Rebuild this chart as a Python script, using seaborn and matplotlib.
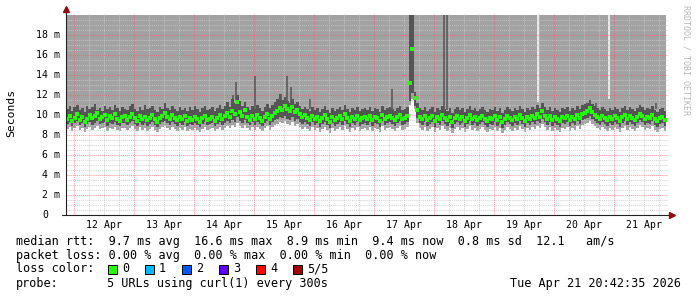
import numpy as np
import pandas as pd
import matplotlib
matplotlib.use("Agg")
import matplotlib.pyplot as plt
import matplotlib.dates as mdates
from matplotlib.patches import Rectangle
from matplotlib.transforms import blended_transform_factory
import seaborn as sns

# ---------------- data (hourly, starting 2026-04-11 20:48) ----------------
start_time = "2026-04-11 20:48"
n_hours = 240

median_ms = [
    9.6, 9.9, 9.4, 9.7, 10.1, 9.5, 9.8, 9.3, 9.6, 10.0, 9.7, 9.9, 10.2, 9.6, 9.8, 10.0, 9.5, 9.9, 9.7, 10.1, 9.6, 9.4, 9.8, 9.9,
    9.5, 9.8, 10.1, 9.7, 9.4, 9.9, 9.6, 9.8, 9.5, 9.7, 10.0, 9.6, 9.3, 9.7, 9.9, 10.2, 9.8, 9.6, 10.0, 9.7, 9.5, 9.8, 9.6, 9.9,
    9.4, 9.7, 9.5, 9.8, 9.6, 9.3, 9.7, 9.9, 9.5, 9.6, 9.8, 9.4, 9.7, 10.0, 9.6, 9.9, 10.2, 9.8, 10.4, 10.1, 11.3, 10.3, 9.9, 10.5,
    9.8, 9.5, 9.9, 9.6, 10.0, 9.7, 9.4, 9.8, 10.1, 9.6, 9.9, 10.2, 10.4, 10.7, 10.5, 10.9, 10.6, 10.4, 10.8, 10.3, 10.5, 10.1, 9.8, 10.0,
    9.7, 9.5, 9.9, 9.6, 9.8, 9.4, 9.7, 10.0, 9.6, 9.3, 9.8, 9.5, 9.7, 9.9, 9.6, 10.1, 9.7, 9.4, 9.8, 9.6, 9.9, 9.5, 9.7, 9.8,
    9.6, 9.9, 9.5, 9.8, 9.7, 9.4, 10.0, 9.6, 9.8, 9.9, 9.7, 9.5, 9.8, 10.0, 9.6, 9.7, 9.9, 13.2, 16.6, 11.7, 10.5, 9.8, 9.6, 9.9,
    9.5, 9.7, 9.9, 9.4, 9.8, 9.6, 10.0, 9.7, 9.5, 9.8, 9.3, 9.7, 9.9, 9.6, 9.8, 9.4, 9.7, 10.0, 9.6, 9.8, 9.5, 9.7, 9.9, 9.6,
    9.4, 9.7, 9.6, 9.9, 9.5, 9.8, 9.3, 9.6, 9.9, 9.7, 9.5, 9.8, 9.6, 10.0, 9.7, 9.4, 9.8, 9.6, 9.9, 9.7, 10.1, 9.8, 10.4, 9.9,
    9.6, 9.9, 9.5, 9.8, 9.6, 9.4, 9.8, 9.7, 9.9, 9.5, 9.8, 9.6, 10.0, 9.7, 10.1, 10.2, 10.4, 10.7, 10.3, 10.0, 9.8, 9.6, 9.9, 9.7,
    9.5, 9.8, 9.6, 9.9, 9.7, 9.4, 9.8, 10.0, 9.6, 9.9, 9.7, 9.5, 9.8, 10.1, 9.9, 9.6, 9.8, 9.7, 10.0, 9.6, 9.4, 9.7, 9.8, 9.5,
]

inner_high_ms = [
    10.6, 10.9, 10.4, 10.8, 11.0, 10.5, 10.7, 10.3, 10.9, 10.6, 10.8, 11.1, 10.5, 10.7, 10.4, 10.9, 10.6, 10.8, 10.5, 11.0, 10.7, 10.4, 10.8, 10.6,
    10.5, 10.9, 11.1, 10.6, 10.4, 10.8, 10.5, 11.0, 10.6, 10.7, 10.9, 10.5, 10.3, 10.8, 10.6, 11.2, 10.7, 10.5, 10.9, 10.6, 10.4, 10.8, 10.5, 10.7,
    10.4, 10.8, 10.5, 10.9, 10.6, 10.3, 10.7, 10.9, 10.5, 10.6, 10.8, 10.4, 10.7, 11.0, 10.6, 10.9, 11.3, 10.8, 11.6, 11.2, 12.0, 11.4, 10.9, 11.3,
    10.8, 10.5, 10.9, 10.6, 11.0, 10.7, 10.4, 10.8, 11.1, 10.7, 11.0, 11.3, 11.6, 12.1, 11.5, 11.8, 11.4, 11.2, 11.6, 11.1, 11.3, 10.9, 10.6, 10.8,
    10.6, 10.4, 10.8, 10.5, 10.7, 10.3, 10.6, 10.9, 10.5, 10.2, 10.7, 10.4, 10.6, 10.8, 10.5, 11.0, 10.6, 10.3, 10.7, 10.5, 10.8, 10.4, 10.6, 10.7,
    10.5, 10.8, 10.4, 10.7, 10.6, 10.3, 10.9, 10.5, 10.7, 10.8, 10.6, 10.4, 10.7, 10.9, 10.5, 10.6, 10.8, 20.0, 20.0, 12.3, 11.2, 10.7, 10.5, 10.8,
    10.4, 10.6, 10.8, 10.3, 10.7, 10.5, 10.9, 10.6, 10.4, 10.7, 10.2, 10.6, 10.8, 10.5, 10.7, 10.3, 10.6, 10.9, 10.5, 10.7, 10.4, 10.6, 10.8, 10.5,
    10.3, 10.6, 10.5, 10.8, 10.4, 10.7, 10.2, 10.5, 10.8, 10.6, 10.4, 10.7, 10.5, 10.9, 10.6, 10.3, 10.7, 10.5, 10.8, 10.6, 11.0, 10.7, 11.2, 10.8,
    10.5, 10.8, 10.4, 10.7, 10.5, 10.3, 10.7, 10.6, 10.8, 10.4, 10.7, 10.5, 10.9, 10.6, 11.0, 11.1, 11.2, 11.5, 11.1, 10.9, 10.7, 10.5, 10.8, 10.6,
    10.4, 10.7, 10.5, 10.8, 10.6, 10.3, 10.7, 10.9, 10.5, 10.8, 10.6, 10.4, 10.7, 11.0, 10.8, 10.5, 10.7, 10.6, 10.9, 10.5, 10.3, 10.6, 10.7, 10.4,
]

inner_low_ms = [
    9.1, 9.3, 8.9, 9.2, 9.4, 9.0, 9.2, 8.8, 9.1, 9.3, 9.0, 9.2, 9.4, 9.1, 9.2, 9.3, 8.9, 9.2, 9.1, 9.3, 9.0, 8.9, 9.2, 9.2,
    9.0, 9.2, 9.4, 9.1, 8.9, 9.3, 9.0, 9.2, 8.9, 9.1, 9.3, 9.0, 8.8, 9.1, 9.3, 9.4, 9.2, 9.0, 9.3, 9.1, 8.9, 9.2, 9.0, 9.3,
    8.9, 9.1, 9.0, 9.2, 9.0, 8.8, 9.1, 9.3, 9.0, 9.1, 9.2, 8.9, 9.1, 9.3, 9.0, 9.2, 9.4, 9.2, 9.5, 9.3, 9.8, 9.4, 9.2, 9.5,
    9.2, 9.0, 9.3, 9.0, 9.3, 9.1, 8.9, 9.2, 9.4, 9.0, 9.3, 9.5, 9.6, 9.8, 9.7, 9.9, 9.6, 9.5, 9.8, 9.4, 9.6, 9.3, 9.1, 9.3,
    9.1, 8.9, 9.3, 9.0, 9.2, 8.8, 9.1, 9.3, 9.0, 8.7, 9.2, 8.9, 9.1, 9.3, 9.0, 9.4, 9.1, 8.8, 9.2, 9.0, 9.3, 8.9, 9.1, 9.2,
    9.0, 9.3, 8.9, 9.2, 9.1, 8.8, 9.4, 9.0, 9.2, 9.3, 9.1, 8.9, 9.2, 9.4, 9.0, 9.1, 9.3, 11.4, 12.2, 10.9, 9.7, 9.2, 9.0, 9.3,
    8.9, 9.1, 9.3, 8.8, 9.2, 9.0, 9.4, 9.1, 8.9, 9.2, 8.7, 9.1, 9.3, 9.0, 9.2, 8.8, 9.1, 9.4, 9.0, 9.2, 8.9, 9.1, 9.3, 9.0,
    8.8, 9.1, 9.0, 9.3, 8.9, 9.2, 8.7, 9.0, 9.3, 9.1, 8.9, 9.2, 9.0, 9.4, 9.1, 8.8, 9.2, 9.0, 9.3, 9.1, 9.4, 9.2, 9.6, 9.3,
    9.0, 9.3, 8.9, 9.2, 9.0, 8.8, 9.2, 9.1, 9.3, 8.9, 9.2, 9.0, 9.4, 9.1, 9.5, 9.6, 9.7, 9.9, 9.6, 9.4, 9.2, 9.0, 9.3, 9.1,
    8.9, 9.2, 9.0, 9.3, 9.1, 8.8, 9.2, 9.4, 9.0, 9.3, 9.1, 8.9, 9.2, 9.5, 9.3, 9.0, 9.2, 9.1, 9.4, 9.0, 8.8, 9.1, 9.2, 8.9,
]

outer_low_ms = [
    8.6, 8.8, 8.4, 8.7, 8.9, 8.5, 8.7, 8.3, 8.6, 8.8, 8.5, 8.7, 8.9, 8.6, 8.7, 8.8, 8.4, 8.7, 8.6, 8.8, 8.5, 8.4, 8.7, 8.7,
    8.5, 8.7, 8.9, 8.6, 8.4, 8.8, 8.5, 8.7, 8.4, 8.6, 8.8, 8.5, 8.3, 8.6, 8.8, 8.9, 8.7, 8.5, 8.8, 8.6, 8.4, 8.7, 8.5, 8.8,
    8.4, 8.6, 8.5, 8.7, 8.5, 8.3, 8.6, 8.8, 8.5, 8.6, 8.7, 8.4, 8.6, 8.8, 8.5, 8.7, 8.9, 8.7, 9.0, 8.8, 9.2, 8.9, 8.7, 9.0,
    8.7, 8.5, 8.8, 8.5, 8.8, 8.6, 8.4, 8.7, 8.9, 8.5, 8.8, 9.0, 9.1, 9.3, 9.2, 9.4, 9.1, 9.0, 9.3, 8.9, 9.1, 8.8, 8.6, 8.8,
    8.6, 8.4, 8.8, 8.5, 8.7, 8.3, 8.6, 8.8, 8.5, 8.2, 8.7, 8.4, 8.6, 8.8, 8.5, 8.9, 8.6, 8.3, 8.7, 8.5, 8.8, 8.4, 8.6, 8.7,
    8.5, 8.8, 8.4, 8.7, 8.6, 8.3, 8.9, 8.5, 8.7, 8.8, 8.6, 8.4, 8.7, 8.9, 8.5, 8.6, 8.8, 11.0, 11.6, 10.6, 9.2, 8.7, 8.5, 8.8,
    8.4, 8.6, 8.8, 8.3, 8.7, 8.5, 8.9, 8.6, 8.4, 8.7, 8.2, 8.6, 8.8, 8.5, 8.7, 8.3, 8.6, 8.9, 8.5, 8.7, 8.4, 8.6, 8.8, 8.5,
    8.3, 8.6, 8.5, 8.8, 8.4, 8.7, 8.2, 8.5, 8.8, 8.6, 8.4, 8.7, 8.5, 8.9, 8.6, 8.3, 8.7, 8.5, 8.8, 8.6, 8.9, 8.7, 9.1, 8.8,
    8.5, 8.8, 8.4, 8.7, 8.5, 8.3, 8.7, 8.6, 8.8, 8.4, 8.7, 8.5, 8.9, 8.6, 9.0, 9.1, 9.2, 9.4, 9.1, 8.9, 8.7, 8.5, 8.8, 8.6,
    8.4, 8.7, 8.5, 8.8, 8.6, 8.3, 8.7, 8.9, 8.5, 8.8, 8.6, 8.4, 8.7, 9.0, 8.8, 8.5, 8.7, 8.6, 8.9, 8.5, 8.3, 8.6, 8.7, 8.4,
]

# single-sample spikes of the inner smoke band
spike_times = ["2026-04-14 15:36", "2026-04-14 16:48", "2026-04-15 00:24", "2026-04-15 10:48",
               "2026-04-15 13:12", "2026-04-15 14:48", "2026-04-15 22:24", "2026-04-17 07:12",
               "2026-04-18 03:48", "2026-04-18 05:00", "2026-04-20 16:48", "2026-04-21 16:48"]
spike_low_ms = [10.6, 10.8, 10.6, 10.8, 10.8, 10.8, 10.6, 10.6, 10.5, 10.5, 10.7, 10.6]
spike_high_ms = [12.0, 13.3, 13.9, 12.1, 13.9, 12.8, 11.6, 12.6, 20.0, 20.0, 11.2, 11.2]

# samples where the highest ping stayed inside the graph
gap_times = ["2026-04-19 17:36", "2026-04-20 22:00"]
gap_max_ms = [11.3, 11.6]

y_major = [2, 4, 6, 8, 10, 12, 14, 16, 18]
y_labels = ["2 m", "4 m", "6 m", "8 m", "10 m", "12 m", "14 m", "16 m", "18 m"]
day_labels = ["12 Apr", "13 Apr", "14 Apr", "15 Apr", "16 Apr", "17 Apr", "18 Apr", "19 Apr", "20 Apr", "21 Apr"]

rtt_stats = {"avg": 9.7, "max": 16.6, "min": 8.9, "now": 9.4, "sd": 0.8, "ams": 12.1}
loss_stats = {"avg": 0.00, "max": 0.00, "min": 0.00, "now": 0.00}
loss_labels = ["0", "1", "2", "3", "4", "5/5"]
loss_colors = ["#26ff00", "#00b8ff", "#0059ff", "#5e00ff", "#ff0000", "#a10000"]
probe_text = "5 URLs using curl(1) every 300s"
stamp_text = "Tue Apr 21 20:42:35 2026"

# ---------------- figure ----------------
sns.set_theme(style="white")
plt.rcParams["font.family"] = ["DejaVu Sans Mono", "DejaVu Sans"]

W, H = 697, 297
fig = plt.figure(figsize=(W / 100, H / 100), dpi=100)
fig.patch.set_facecolor("white")

AX_L, AX_R, AX_B, AX_T = 66, 668, 215, 13
ax = fig.add_axes([AX_L / W, (H - AX_B) / H, (AX_R - AX_L) / W, (AX_B - AX_T) / H])
ax.set_facecolor("white")

t0 = pd.Timestamp(start_time)
edges = t0 + pd.to_timedelta(np.arange(n_hours + 1), unit="h")
xe = mdates.date2num(edges.to_pydatetime())
centers = mdates.date2num((t0 + pd.to_timedelta(np.arange(n_hours) + 0.5, unit="h")).to_pydatetime())

def ext(a):
    a = np.asarray(a, dtype=float)
    return np.append(a, a[-1])

LIGHT = "#a2a2a2"
DARK = "#555555"
TOP = 20.0

ax.fill_between(xe, ext(outer_low_ms), TOP, step="post", color=LIGHT, linewidth=0, zorder=1)
ax.fill_between(xe, ext(inner_low_ms), np.minimum(ext(inner_high_ms), TOP), step="post",
                color=DARK, linewidth=0, zorder=7)

sx = mdates.date2num(pd.to_datetime(spike_times).to_pydatetime())
ax.vlines(sx, spike_low_ms, spike_high_ms, color=DARK, linewidth=1.1, zorder=7)

gx = mdates.date2num(pd.to_datetime(gap_times).to_pydatetime())
ax.vlines(gx, gap_max_ms, TOP, color="white", linewidth=1.1, zorder=3)

med_df = pd.DataFrame({"t": centers, "median": median_ms})
sns.scatterplot(data=med_df, x="t", y="median", ax=ax, marker="s", s=7,
                color="#26ff00", linewidth=0, zorder=8, legend=False)

# ---------------- grid ----------------
midnights = pd.date_range("2026-04-12", "2026-04-21", freq="D")
six_hours = pd.date_range("2026-04-12", "2026-04-21 18:00", freq="6h")
six_minor = six_hours[~six_hours.isin(midnights)]
xm = mdates.date2num(midnights.to_pydatetime())
xn = mdates.date2num(six_minor.to_pydatetime())
y_minor = [v / 2 for v in range(1, 40) if v % 4 != 0]

dot = (0, (1, 1))
ax.hlines(y_minor, 0, 1, transform=blended_transform_factory(ax.transAxes, ax.transData),
          colors="#c8c8c8", linewidth=0.75, linestyles=dot, alpha=0.8, zorder=5)
ax.vlines(xn, 0, 1, transform=blended_transform_factory(ax.transData, ax.transAxes),
          colors="#c8c8c8", linewidth=0.75, linestyles=dot, alpha=0.8, zorder=5)
ax.hlines(y_major, 0, 1, transform=blended_transform_factory(ax.transAxes, ax.transData),
          colors="#ff5a5a", linewidth=0.75, linestyles=dot, alpha=0.6, zorder=6)
ax.vlines(xm, 0, 1, transform=blended_transform_factory(ax.transData, ax.transAxes),
          colors="#ff5a5a", linewidth=0.75, linestyles=dot, alpha=0.6, zorder=6)

ax.set_xlim(xe[0], xe[0] + (AX_R - AX_L) / 2.5 / 24.0)
ax.set_ylim(0, TOP * (AX_B - AX_T) / 200.0)

for s in ax.spines.values():
    s.set_visible(False)
ax.set_xlabel("")
ax.set_ylabel("")

# ticks (short marks outside axes)
ax.set_yticks(y_minor + y_major)
ax.set_yticklabels([])
ax.set_xticks(list(xm) + list(xn))
ax.set_xticklabels([])
ax.tick_params(axis="both", length=2.2, width=0.7, color="#333333", direction="out")

# axis lines and arrows
ax.plot([0, 0], [0, (AX_B - 10) / (AX_B - AX_T)], transform=ax.transAxes, color="#222222",
        linewidth=0.8, clip_on=False, zorder=9)
ax.plot([-4 / (AX_R - AX_L), (670 - AX_L) / (AX_R - AX_L)], [0, 0], transform=ax.transAxes,
        color="#222222", linewidth=0.8, clip_on=False, zorder=9)
ax.plot([0], [(AX_B - 9) / (AX_B - AX_T)], transform=ax.transAxes, marker="^", markersize=4,
        color="#8b1010", clip_on=False, zorder=10)
ax.plot([(672 - AX_L) / (AX_R - AX_L)], [0], transform=ax.transAxes, marker=">", markersize=4,
        color="#8b1010", clip_on=False, zorder=10)

# tick labels
TICK_FS = 7.1
ty = blended_transform_factory(ax.transAxes, ax.transData)
for v, lab in zip(y_major, y_labels):
    ax.text((60 - AX_L) / (AX_R - AX_L), v, lab, transform=ty, ha="right", va="center",
            fontsize=TICK_FS, color="black")
ax.text((48 - AX_L) / (AX_R - AX_L), 0, "0", transform=ty, ha="right", va="center",
        fontsize=TICK_FS, color="black")

noons = mdates.date2num((midnights + pd.Timedelta(hours=12)).to_pydatetime())
tx = blended_transform_factory(ax.transData, ax.transAxes)
for xv, lab in zip(noons, day_labels):
    ax.text(xv, -(225 - AX_B) / (AX_B - AX_T), lab, transform=tx, ha="center", va="center",
            fontsize=TICK_FS, color="black")

# ---------------- texts ----------------
FS = 8.5

def ftext(x, y, s, **kw):
    fig.text(x / W, 1 - y / H, s, **kw)

ftext(11, 113, "Seconds", rotation=90, ha="center", va="center", fontsize=8.2, color="black")
ftext(686, 60, "RRDTOOL / TOBI OETIKER", rotation=270, ha="center", va="center",
      fontsize=6.0, color="#b8b8b8")

line1 = ("median rtt:  {avg:.1f} ms avg  {max:.1f} ms max  {min:.1f} ms min  {now:.1f} ms now  "
         "{sd:.1f} ms sd  {ams:.1f}   am/s").format(**rtt_stats)
line2 = ("packet loss: {avg:.2f} % avg  {max:.2f} % max  {min:.2f} % min  {now:.2f} % now").format(**loss_stats)
ftext(16, 241, line1, ha="left", va="center", fontsize=FS, color="black")
ftext(16, 255, line2, ha="left", va="center", fontsize=FS, color="black")
ftext(16, 269, "loss color:", ha="left", va="center", fontsize=FS, color="black")
for i, (lab, col) in enumerate(zip(loss_labels, loss_colors)):
    bx = 108 + 37 * i
    fig.patches.append(Rectangle((bx / W, 1 - 273.5 / H), 9 / W, 9 / H, transform=fig.transFigure,
                                 facecolor=col, edgecolor="black", linewidth=0.7, figure=fig))
    ftext(bx + 14, 269, lab, ha="left", va="center", fontsize=FS, color="black")
ftext(16, 283, "probe:", ha="left", va="center", fontsize=FS, color="black")
ftext(107, 283, probe_text, ha="left", va="center", fontsize=FS, color="black")
ftext(681, 283, stamp_text, ha="right", va="center", fontsize=FS, color="black")

fig.savefig("out.png", dpi=100, facecolor="white")
